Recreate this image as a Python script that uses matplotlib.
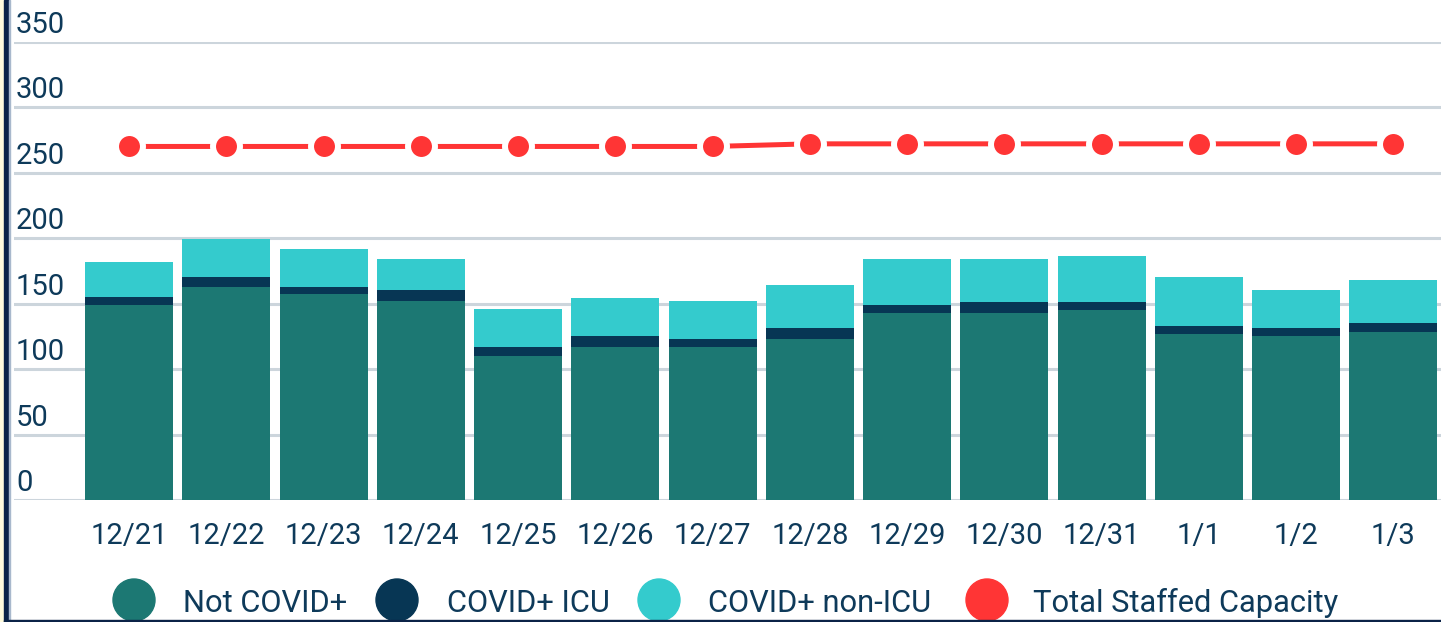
import matplotlib
matplotlib.use("Agg")
import matplotlib.pyplot as plt
import matplotlib.transforms as mtransforms
from matplotlib.patches import Rectangle, Ellipse
import numpy as np

# ---- data ----
dates = ["12/21", "12/22", "12/23", "12/24", "12/25", "12/26", "12/27",
         "12/28", "12/29", "12/30", "12/31", "1/1", "1/2", "1/3"]
not_covid = [149, 163, 157, 152, 110, 117, 117, 123, 143, 143, 145, 127, 125, 128]
covid_icu = [6, 7, 6, 8, 7, 8, 6, 8, 6, 8, 6, 6, 6, 7]
covid_non_icu = [27, 29, 29, 24, 29, 29, 29, 33, 35, 33, 35, 37, 29, 33]
capacity = [270, 270, 270, 270, 270, 270, 270, 272, 272, 272, 272, 272, 272, 272]
y_ticks = [0, 50, 100, 150, 200, 250, 300, 350]
legend_labels = ["Not COVID+", "COVID+ ICU", "COVID+ non-ICU", "Total Staffed Capacity"]

C_TEAL = "#1c7873"
C_NAVY = "#073654"
C_CYAN = "#34cbcd"
C_RED = "#ff3535"
C_TEXT = "#0e3a5a"
C_GRID = "#ccd5dc"

plt.rcParams["font.family"] = ["Roboto", "DejaVu Sans"]

W, H = 1441, 622
fig = plt.figure(figsize=(W / 100, H / 100), dpi=100)
fig.patch.set_facecolor("white")

ax_left, ax_right = 14 / W, 1.0
ax_bot, ax_top = (H - 500) / H, (H - 41.7) / H
ax = fig.add_axes([ax_left, ax_bot, ax_right - ax_left, ax_top - ax_bot])
ax.set_facecolor("white")

x = np.arange(len(dates))
bw = 0.905
ax.bar(x, not_covid, width=bw, color=C_TEAL, zorder=3)
ax.bar(x, covid_icu, width=bw, bottom=not_covid, color=C_NAVY, zorder=3)
bottom2 = np.array(not_covid) + np.array(covid_icu)
ax.bar(x, covid_non_icu, width=bw, bottom=bottom2, color=C_CYAN, zorder=3)

ax.plot(x, capacity, color=C_RED, lw=3.6, marker="o", ms=19.4,
        markerfacecolor=C_RED, markeredgecolor="white", markeredgewidth=4.3,
        zorder=4, solid_capstyle="butt")

ax.set_xlim(-1.183, 13.49)
ax.set_ylim(0, 350)

for v in y_ticks:
    ax.axhline(v, color=C_GRID, lw=2.2, zorder=1)

for s in ax.spines.values():
    s.set_visible(False)

ax.set_yticks([])
ax.set_xticks(x)
ax.set_xticklabels(dates, fontsize=21, color=C_TEXT)
ax.tick_params(axis="x", length=0, pad=16)

off = mtransforms.ScaledTranslation(0, 9 / 100, fig.dpi_scale_trans)
trans = mtransforms.blended_transform_factory(ax.transAxes, ax.transData) + off
for v in y_ticks:
    ax.text(2 / (W - 14), v, str(v), transform=trans, ha="left", va="baseline",
            fontsize=21, color=C_TEXT)

# legend (manual)
leg_colors = [C_TEAL, C_NAVY, C_CYAN, C_RED]
marker_cx = [134, 397, 659, 987]
text_x = [183, 447, 708, 1033]
ly = H - 600
for col, cx, tx, lab in zip(leg_colors, marker_cx, text_x, legend_labels):
    e = Ellipse((cx / W, ly / H), 42 / W, 42 / H, transform=fig.transFigure,
                color=col, zorder=5)
    fig.add_artist(e)
    fig.text(tx / W, ly / H, lab, fontsize=22.2, color=C_TEXT, ha="left",
             va="center_baseline")

# frame decorations
fig.add_artist(Rectangle((0, 0), 3.7 / W, 1, transform=fig.transFigure,
                         color="#fffbdc", zorder=6))
fig.add_artist(Rectangle((3.7 / W, 0), 5.3 / W, 1, transform=fig.transFigure,
                         color="#0b2347", zorder=6))
fig.add_artist(Rectangle((9 / W, 0), 1.2 / W, 1, transform=fig.transFigure,
                         color="#a8b8cc", zorder=6))
fig.add_artist(Rectangle((3.7 / W, 0), 1, 2.2 / H, transform=fig.transFigure,
                         color="#0b2347", zorder=6))

fig.savefig("out.png", dpi=100, facecolor="white")
